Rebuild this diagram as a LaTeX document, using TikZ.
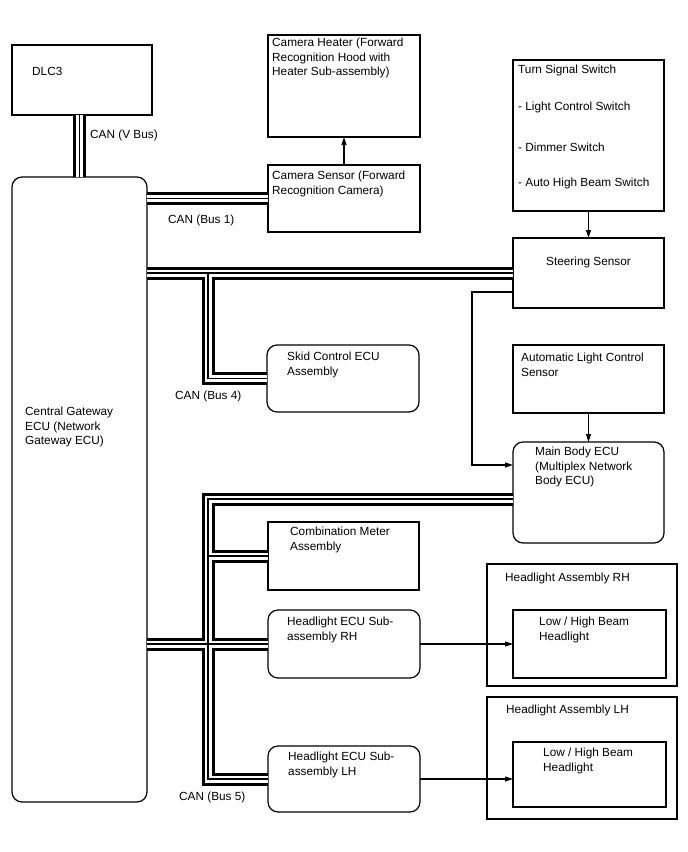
\documentclass[tikz,border=0pt]{standalone}
\usepackage{fontspec}
\setmainfont{Liberation Sans}
\usepackage{tikz}
\usetikzlibrary{arrows.meta,positioning,calc}

\begin{document}
\begin{tikzpicture}[
x=1pt, y=-1pt,
box/.style={draw, line width=1.2pt, anchor=north west, inner sep=0pt, outer sep=0pt},
rbox/.style={box, rounded corners=10pt},
txt/.style={anchor=north west, align=left, inner sep=0pt, font=\fontsize{11.8}{14.5}\selectfont},
buslbl/.style={anchor=west, inner sep=0pt, font=\fontsize{11.8}{14.5}\selectfont},
arrow/.style={-{Triangle[length=8pt,width=5pt]}, line width=1.1pt}
]
\useasboundingbox (0,0) rectangle (688,852);

% left column
\node[box, minimum width=140pt, minimum height=70pt,
  label={[txt, xshift=20pt, yshift=-22pt]north west:DLC3}] (dlc) at (12,45) {};
\node[rbox, minimum width=135pt, minimum height=625pt,
  label={[txt, xshift=13pt, yshift=-230pt]north west:{Central Gateway\\ECU (Network\\Gateway ECU)}}] (gateway) at (12,177) {};

% middle column
\node[box, minimum width=152pt, minimum height=102pt,
  label={[txt, xshift=4pt, yshift=-3pt]north west:{Camera Heater (Forward\\Recognition Hood with\\Heater Sub-assembly)}}] (camheater) at (268,35) {};
\node[box, minimum width=152pt, minimum height=67pt,
  label={[txt, xshift=4pt, yshift=-6pt]north west:{Camera Sensor (Forward\\Recognition Camera)}}] (camsensor) at (268,165) {};
\node[rbox, minimum width=152pt, minimum height=67pt,
  label={[txt, xshift=20pt, yshift=-7pt]north west:{Skid Control ECU\\Assembly}}] (skid) at (267,345) {};
\node[box, minimum width=151pt, minimum height=68pt,
  label={[txt, xshift=22pt, yshift=-5pt]north west:{Combination Meter\\Assembly}}] (combmeter) at (268,522) {};
\node[rbox, minimum width=152pt, minimum height=68pt,
  label={[txt, xshift=19pt, yshift=-7pt]north west:{Headlight ECU Sub-\\assembly RH}}] (hlecurh) at (268,610) {};
\node[rbox, minimum width=152pt, minimum height=66pt,
  label={[txt, xshift=20pt, yshift=-6pt]north west:{Headlight ECU Sub-\\assembly LH}}] (hleculh) at (268,746) {};

% right column
\node[box, minimum width=151pt, minimum height=151pt,
  label={[txt, xshift=5pt, yshift=-5pt]north west:{Turn Signal Switch\\[22.5pt]- Light Control Switch\\[26.5pt]- Dimmer Switch\\[20.5pt]- Auto High Beam Switch}}] (turnsw) at (513,60) {};
\node[box, minimum width=151pt, minimum height=70pt,
  label={[txt, anchor=north, yshift=-19pt]north:Steering Sensor}] (steer) at (513,238) {};
\node[box, minimum width=151pt, minimum height=68pt,
  label={[txt, xshift=8pt, yshift=-8pt]north west:{Automatic Light Control\\Sensor}}] (alcs) at (513,345) {};
\node[rbox, minimum width=151pt, minimum height=101pt,
  label={[txt, xshift=22pt, yshift=-5pt]north west:{Main Body ECU\\(Multiplex Network\\Body ECU)}}] (mainbody) at (513,442) {};
\node[box, minimum width=190pt, minimum height=122pt,
  label={[txt, xshift=18pt, yshift=-9pt]north west:Headlight Assembly RH}] (hlasmrh) at (487,564) {};
\node[box, minimum width=153pt, minimum height=68pt,
  label={[txt, xshift=26pt, yshift=-7pt]north west:{Low / High Beam\\Headlight}}] (hlrh) at (513,610) {};
\node[box, minimum width=190pt, minimum height=122pt,
  label={[txt, xshift=19pt, yshift=-8pt]north west:Headlight Assembly LH}] (hlasmlh) at (487,697) {};
\node[box, minimum width=153pt, minimum height=65pt,
  label={[txt, xshift=30pt, yshift=-6pt]north west:{Low / High Beam\\Headlight}}] (hllh) at (513,742) {};

% CAN buses (outer pair, gap, centre wire)
\coordinate (trunk) at (208,0);
\coordinate (mbbus) at ([yshift=-6.5pt]mainbody.west);
\foreach \w/\col in {13pt/black,7pt/white,1.1pt/black}
  \draw[line width=\w, draw=\col, miter limit=10]
    (gateway.north |- dlc.south) -- (gateway.north)
    (camsensor.west -| gateway.east) -- (camsensor.west)
    (steer.west -| gateway.east) -- (steer.west)
    (trunk |- steer.west) -- (trunk |- skid.west) -- (skid.west)
    (hlecurh.west -| gateway.east) -- (hlecurh.west)
    (mbbus) -- (trunk |- mbbus) -- (trunk |- hleculh.west) -- (hleculh.west)
    (trunk |- combmeter.west) -- (combmeter.west);

\node[buslbl] (vbus) at (90,135) {CAN (V Bus)};
\node[buslbl] (bus1) at (168,220) {CAN (Bus 1)};
\node[buslbl] (bus4) at (175,396) {CAN (Bus 4)};
\node[buslbl] (bus5) at (179,797) {CAN (Bus 5)};

% signal lines
\coordinate (elbow) at (472,0);
\coordinate (steerout) at ([yshift=-19pt]steer.west);
\coordinate (mbin) at ([yshift=27.5pt]mainbody.west);
\draw[arrow] (camsensor.north) -- (camheater.south);
\draw[arrow] (turnsw.south) -- (steer.north);
\draw[arrow] (alcs.south) -- (mainbody.north);
\draw[arrow] (steerout) -- (elbow |- steerout) -- (elbow |- mbin) -- (mbin);
\draw[arrow] (hlecurh.east) -- (hlrh.west);
\draw[arrow] (hleculh.east) -- (hleculh.east -| hllh.west);
\end{tikzpicture}
\end{document}
